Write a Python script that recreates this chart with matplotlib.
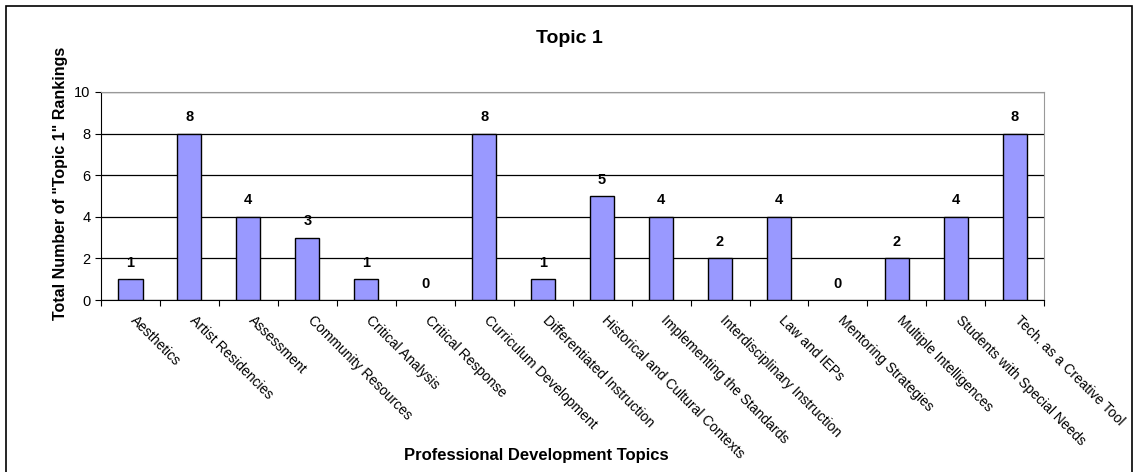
import matplotlib.pyplot as plt
from matplotlib.patches import Rectangle

# ============================================
# Chart data
# ============================================
topics = [
    'Aesthetics', 'Artist Residencies', 'Assessment', 'Community Resources',
    'Critical Analysis', 'Critical Response', 'Curriculum Development',
    'Differentiated Instruction', 'Historical and Cultural Contexts',
    'Implementing the Standards', 'Interdisciplinary Instruction',
    'Law and IEPs', 'Mentoring Strategies', 'Multiple Intelligences',
    'Students with Special Needs', 'Tech. as a Creative Tool',
]
rankings = [1, 8, 4, 3, 1, 0, 8, 1, 5, 4, 2, 4, 0, 2, 4, 8]
y_ticks = [0, 2, 4, 6, 8, 10]

plt.rcParams['font.family'] = ['Liberation Sans', 'DejaVu Sans']

fig = plt.figure(figsize=(11.37, 4.72), dpi=100)
ax = fig.add_axes([0.0888, 0.3644, 0.8297, 0.4407])

x = list(range(len(topics)))
widths = [1.0 if v > 0 else 0 for v in rankings]
ax.bar(x, rankings, width=0.41, color='#9999FF', edgecolor='black',
       linewidth=widths, zorder=3)
for xi, v in zip(x, rankings):
    ax.text(xi, v + 0.45, str(v), ha='center', va='bottom',
            fontsize=10.5, fontweight='bold', zorder=4)

ax.set_xlim(-0.5, len(topics) - 0.5)
ax.set_ylim(0, 10)
ax.set_yticks(y_ticks)
ax.tick_params(axis='y', labelsize=10.5, length=4, direction='out')
ax.set_xticks([i - 0.5 for i in range(len(topics) + 1)])
ax.set_xticklabels([])
ax.tick_params(axis='x', length=4, direction='out')
for xi, name in zip(x, topics):
    ax.text(xi + 0.12, -0.65, name, rotation=-45, rotation_mode='anchor',
            ha='left', va='top', fontsize=10)

ax.yaxis.grid(True, color='black', linewidth=0.9, zorder=0)
for side in ['top', 'right']:
    ax.spines[side].set_color('#999999')
ax.spines['left'].set_color('black')
ax.spines['bottom'].set_color('black')

fig.text(0.501, 0.918, 'Topic 1', ha='center', va='center',
         fontsize=14, fontweight='bold')
fig.text(0.053, 0.612, 'Total Number of "Topic 1" Rankings', rotation=90,
         ha='center', va='center', fontsize=11.5, fontweight='bold')
fig.text(0.472, 0.036, 'Professional Development Topics', ha='center',
         va='center', fontsize=12, fontweight='bold')

# outer chart border (bottom edge runs past the image)
fig.add_artist(Rectangle((6 / 1137, -0.05), 1126 / 1137, 1.05 - 6 / 472,
                         transform=fig.transFigure, fill=False,
                         edgecolor='black', linewidth=1.2))

fig.savefig('out.png', dpi=100)
